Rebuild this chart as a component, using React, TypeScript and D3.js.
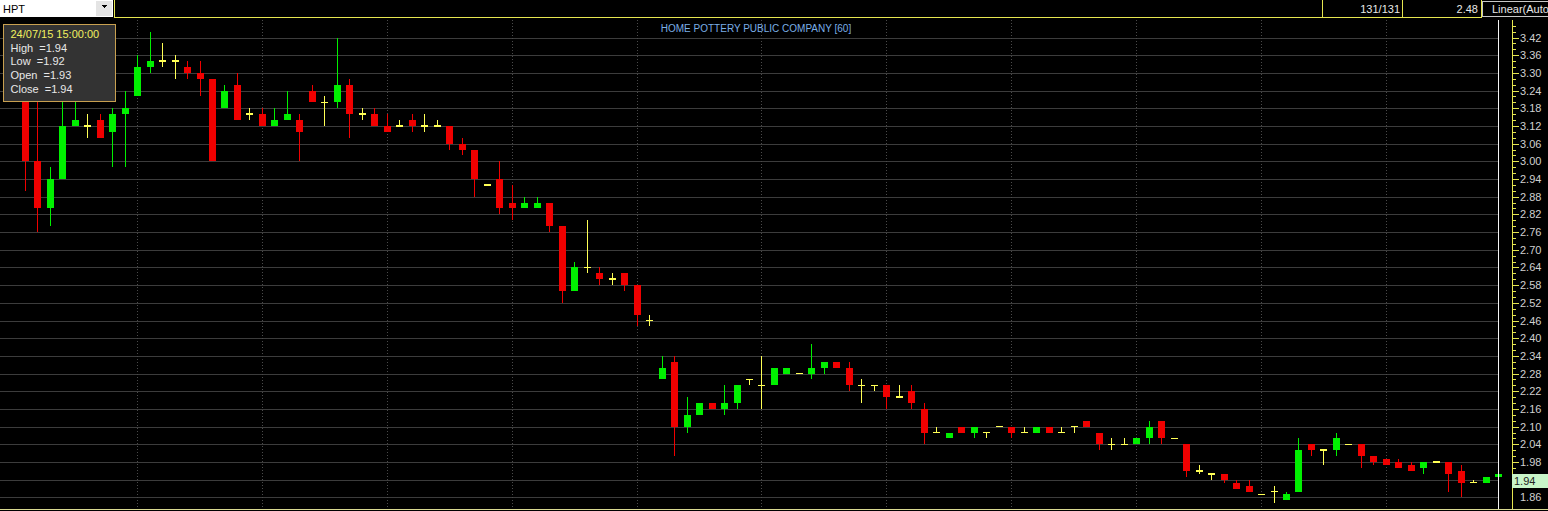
import React, { useEffect, useRef } from "react";
import * as d3 from "d3";

// 60-minute bars for HPT, visible window (oldest -> newest)
const OPEN = [
    3.28, 3.21, 3.0, 2.84, 2.94, 3.12, 3.12, 3.14, 3.1, 3.16,
    3.22, 3.32, 3.34, 3.34, 3.32, 3.3, 3.28, 3.18, 3.26, 3.16,
    3.16, 3.12, 3.14, 3.14, 3.24, 3.2, 3.2, 3.26, 3.16, 3.16,
    3.12, 3.12, 3.14, 3.12, 3.12, 3.12, 3.06, 3.04, 2.92, 2.94,
    2.86, 2.84, 2.84, 2.86, 2.78, 2.56, 2.64, 2.62, 2.6, 2.62,
    2.58, 2.46, 2.26, 2.32, 2.1, 2.14, 2.18, 2.16, 2.18, 2.26,
    2.24, 2.24, 2.28, 2.28, 2.28, 2.3, 2.32, 2.3, 2.24, 2.24,
    2.24, 2.2, 2.22, 2.16, 2.08, 2.06, 2.1, 2.08, 2.08, 2.1,
    2.1, 2.08, 2.08, 2.1, 2.08, 2.1, 2.12, 2.08, 2.04, 2.04,
    2.04, 2.06, 2.12, 2.06, 2.04, 1.95, 1.94, 1.94, 1.91, 1.9,
    1.87, 1.88, 1.85, 1.88, 2.04, 2.02, 2.02, 2.04, 2.04, 2.0,
    1.99, 1.98, 1.97, 1.96, 1.98, 1.98, 1.95, 1.91, 1.91, 1.93,
];
const HIGH = [
    3.32, 3.24, 3.2, 2.98, 3.22, 3.24, 3.16, 3.16, 3.18, 3.24,
    3.36, 3.44, 3.4, 3.36, 3.34, 3.34, 3.28, 3.26, 3.3, 3.18,
    3.18, 3.18, 3.24, 3.16, 3.26, 3.22, 3.42, 3.28, 3.18, 3.18,
    3.16, 3.14, 3.16, 3.16, 3.14, 3.12, 3.08, 3.04, 2.92, 3.0,
    2.92, 2.88, 2.88, 2.86, 2.78, 2.66, 2.8, 2.64, 2.62, 2.62,
    2.58, 2.48, 2.34, 2.34, 2.2, 2.18, 2.18, 2.24, 2.24, 2.26,
    2.34, 2.3, 2.3, 2.28, 2.38, 2.32, 2.32, 2.32, 2.26, 2.24,
    2.24, 2.24, 2.24, 2.18, 2.1, 2.08, 2.1, 2.1, 2.08, 2.1,
    2.1, 2.1, 2.1, 2.1, 2.1, 2.1, 2.12, 2.08, 2.06, 2.06,
    2.06, 2.12, 2.12, 2.06, 2.04, 1.97, 1.94, 1.94, 1.92, 1.92,
    1.87, 1.9, 1.88, 2.06, 2.04, 2.02, 2.08, 2.04, 2.04, 2.0,
    1.99, 1.99, 1.98, 1.98, 1.98, 1.98, 1.97, 1.92, 1.93, 1.94,
];
const LOW = [
    3.22, 2.9, 2.76, 2.78, 2.94, 3.12, 3.08, 3.08, 2.98, 2.98,
    3.22, 3.3, 3.32, 3.28, 3.28, 3.22, 3.0, 3.18, 3.14, 3.14,
    3.12, 3.12, 3.14, 3.0, 3.2, 3.12, 3.18, 3.08, 3.14, 3.12,
    3.1, 3.12, 3.1, 3.1, 3.12, 3.04, 3.02, 2.88, 2.92, 2.82,
    2.8, 2.84, 2.84, 2.76, 2.52, 2.56, 2.62, 2.58, 2.58, 2.56,
    2.44, 2.44, 2.26, 2.0, 2.08, 2.14, 2.16, 2.14, 2.16, 2.24,
    2.16, 2.24, 2.28, 2.28, 2.26, 2.28, 2.3, 2.22, 2.18, 2.22,
    2.16, 2.2, 2.16, 2.04, 2.08, 2.06, 2.08, 2.06, 2.06, 2.1,
    2.06, 2.08, 2.08, 2.08, 2.08, 2.08, 2.1, 2.02, 2.02, 2.04,
    2.04, 2.04, 2.04, 2.06, 1.93, 1.94, 1.92, 1.91, 1.89, 1.88,
    1.87, 1.84, 1.85, 1.88, 2.0, 1.97, 2.0, 2.04, 1.96, 1.97,
    1.97, 1.96, 1.95, 1.94, 1.98, 1.88, 1.86, 1.91, 1.91, 1.92,
];
const CLOSE = [
    3.24, 3.0, 2.84, 2.94, 3.12, 3.14, 3.12, 3.08, 3.16, 3.18,
    3.32, 3.34, 3.34, 3.34, 3.3, 3.28, 3.0, 3.24, 3.14, 3.16,
    3.12, 3.14, 3.16, 3.1, 3.2, 3.2, 3.26, 3.16, 3.16, 3.12,
    3.1, 3.12, 3.12, 3.12, 3.12, 3.06, 3.04, 2.94, 2.92, 2.84,
    2.84, 2.86, 2.86, 2.78, 2.56, 2.64, 2.64, 2.6, 2.6, 2.58,
    2.48, 2.46, 2.3, 2.1, 2.14, 2.18, 2.16, 2.18, 2.24, 2.26,
    2.24, 2.3, 2.3, 2.28, 2.3, 2.32, 2.3, 2.24, 2.24, 2.24,
    2.2, 2.2, 2.18, 2.08, 2.08, 2.08, 2.08, 2.1, 2.08, 2.1,
    2.08, 2.08, 2.1, 2.08, 2.08, 2.1, 2.1, 2.04, 2.04, 2.04,
    2.06, 2.1, 2.06, 2.06, 1.95, 1.95, 1.94, 1.92, 1.89, 1.88,
    1.87, 1.88, 1.87, 2.02, 2.02, 2.02, 2.06, 2.04, 2.0, 1.98,
    1.97, 1.96, 1.95, 1.98, 1.98, 1.94, 1.91, 1.91, 1.93, 1.94,
];

const PRICE_TICKS = [
    "3.42", "3.36", "3.30", "3.24", "3.18", "3.12", "3.06", "3.00", "2.94",
    "2.88", "2.82", "2.76", "2.70", "2.64", "2.58", "2.52", "2.46", "2.40",
    "2.34", "2.28", "2.22", "2.16", "2.10", "2.04", "1.98", "1.92", "1.86",
];

const LAST_PRICE = "1.94";
const TOOLTIP_LINES = ["High  =1.94", "Low  =1.92", "Open  =1.93", "Close  =1.94"];

const W = 1548;
const H = 511;
const FONT = "'Liberation Sans', Arial, sans-serif";

const CandleChart = () => {
    const svgRef = useRef(null);

    useEffect(() => {
        const svg = d3.select(svgRef.current);
        svg.selectAll("*").remove();

        const x = d3.scaleLinear().domain([0, OPEN.length - 1]).range([12.2, 1498.3]);
        const y = d3.scaleLinear().domain([1.86, 3.42]).range([497.4, 37.5]);
        const px = (i: number) => Math.round(x(i));

        svg.append("rect").attr("width", W).attr("height", H).attr("fill", "#000");

        // horizontal grid
        svg.append("g")
            .selectAll("line")
            .data(PRICE_TICKS)
            .enter()
            .append("line")
            .attr("x1", 0)
            .attr("x2", 1498)
            .attr("y1", (d) => Math.round(y(+d)) + 0.5)
            .attr("y2", (d) => Math.round(y(+d)) + 0.5)
            .attr("stroke", "#3c3c3c")
            .attr("stroke-width", 1);

        // vertical dotted grid every 10 bars
        const vIdx = d3.range(10, OPEN.length, 10);
        svg.append("g")
            .selectAll("line")
            .data(vIdx)
            .enter()
            .append("line")
            .attr("x1", (d) => px(d) + 0.5)
            .attr("x2", (d) => px(d) + 0.5)
            .attr("y1", 20)
            .attr("y2", 508)
            .attr("stroke", "#4a4a4a")
            .attr("stroke-dasharray", "1,2");

        const bars = OPEN.map((o, i) => ({ i, o, h: HIGH[i], l: LOW[i], c: CLOSE[i] }));
        const colorOf = (d) => (d.c > d.o ? "#00f000" : d.c < d.o ? "#f00000" : "#ffff55");

        const g = svg.append("g");
        // wicks
        g.selectAll(".wick")
            .data(bars)
            .enter()
            .append("line")
            .attr("class", "wick")
            .attr("x1", (d) => px(d.i) + 0.5)
            .attr("x2", (d) => px(d.i) + 0.5)
            .attr("y1", (d) => y(d.h))
            .attr("y2", (d) => y(d.l))
            .attr("stroke", colorOf)
            .attr("stroke-width", 1.2);

        // bodies
        g.selectAll(".body")
            .data(bars.filter((d) => d.o !== d.c))
            .enter()
            .append("rect")
            .attr("class", "body")
            .attr("x", (d) => px(d.i) - 3)
            .attr("width", 7)
            .attr("y", (d) => y(Math.max(d.o, d.c)))
            .attr("height", (d) => Math.abs(y(d.o) - y(d.c)))
            .attr("fill", colorOf);

        // doji bars
        g.selectAll(".doji")
            .data(bars.filter((d) => d.o === d.c))
            .enter()
            .append("line")
            .attr("class", "doji")
            .attr("x1", (d) => px(d.i) - 3)
            .attr("x2", (d) => px(d.i) + 4)
            .attr("y1", (d) => y(d.o))
            .attr("y2", (d) => y(d.o))
            .attr("stroke", "#ffff55")
            .attr("stroke-width", 1.6);

        // white cursor line
        svg.append("line")
            .attr("x1", 1498.5).attr("x2", 1498.5)
            .attr("y1", 20).attr("y2", 509)
            .attr("stroke", "#f4f4f4");

        // bottom border
        svg.append("line")
            .attr("x1", 0).attr("x2", W)
            .attr("y1", 509.5).attr("y2", 509.5)
            .attr("stroke", "#d8d890");

        // price axis
        svg.append("line")
            .attr("x1", 1512.5).attr("x2", 1512.5)
            .attr("y1", 20).attr("y2", 509)
            .attr("stroke", "#e6e650");

        const minor = d3.range(0, 80).map((k) => 3.48 - k * 0.02).filter((v) => y(v) > 20 && y(v) < 509);
        svg.append("g")
            .selectAll("line")
            .data(minor)
            .enter()
            .append("line")
            .attr("x1", 1512.5)
            .attr("x2", (d) => 1512.5 + (Math.abs(((3.42 - d) / 0.06) - Math.round((3.42 - d) / 0.06)) < 0.01 ? 6 : 3))
            .attr("y1", (d) => Math.round(y(d)) + 0.5)
            .attr("y2", (d) => Math.round(y(d)) + 0.5)
            .attr("stroke", "#e6e650");

        // last price marker box (labels underneath it are covered)
        const boxTop = Math.round(y(+LAST_PRICE));
        const boxH = 14;
        svg.append("g")
            .selectAll("text")
            .data(PRICE_TICKS.filter((d) => {
                const ty = y(+d);
                return ty < boxTop - 6 || ty > boxTop + boxH + 6;
            }))
            .enter()
            .append("text")
            .attr("x", 1520)
            .attr("y", (d) => y(+d) + 4)
            .text((d) => d)
            .attr("fill", "#d0d0d0")
            .attr("font-size", "11px")
            .attr("font-family", FONT);

        svg.append("rect")
            .attr("x", 1512).attr("y", boxTop)
            .attr("width", 36).attr("height", boxH)
            .attr("fill", "#c8f5c8");
        svg.append("text")
            .attr("x", 1514).attr("y", boxTop + 11)
            .text(LAST_PRICE)
            .attr("fill", "#222")
            .attr("font-size", "11px")
            .attr("font-family", FONT);

        // title
        svg.append("text")
            .attr("x", 756).attr("y", 31.5)
            .attr("text-anchor", "middle")
            .text("HOME POTTERY PUBLIC COMPANY [60]")
            .attr("fill", "#7aaee6")
            .attr("font-size", "10px")
            .attr("font-family", FONT);

        // tooltip
        const tip = svg.append("g");
        tip.append("rect")
            .attr("x", 3.5).attr("y", 24.5)
            .attr("width", 112).attr("height", 77)
            .attr("fill", "#333")
            .attr("stroke", "#c8a050");
        tip.append("text")
            .attr("x", 10.5).attr("y", 38)
            .text("24/07/15 15:00:00")
            .attr("fill", "#f0f060")
            .attr("font-size", "11px")
            .attr("font-family", FONT);
        tip.selectAll(".tl")
            .data(TOOLTIP_LINES)
            .enter()
            .append("text")
            .attr("class", "tl")
            .attr("x", 10.5)
            .attr("y", (_d, i) => 51.5 + i * 13.8)
            .style("white-space", "pre")
            .text((d) => d)
            .attr("fill", "#e8e8e8")
            .attr("font-size", "11px")
            .attr("font-family", FONT);

        // header strip
        const hd = svg.append("g");
        hd.append("rect").attr("x", 0).attr("y", 0).attr("width", W).attr("height", 18).attr("fill", "#000");
        hd.append("rect").attr("x", 0).attr("y", 0).attr("width", 113).attr("height", 17).attr("fill", "#fff");
        hd.append("rect").attr("x", 96).attr("y", 1).attr("width", 16).attr("height", 15).attr("fill", "#e4e4e4");
        hd.append("path").attr("d", "M101,5 L107,5 L104,8 Z").attr("fill", "#000");
        hd.append("text")
            .attr("x", 3).attr("y", 12.5)
            .text("HPT")
            .attr("fill", "#000")
            .attr("font-size", "11px")
            .attr("font-family", FONT);
        hd.append("rect")
            .attr("x", 114.5).attr("y", -1)
            .attr("width", 1208).attr("height", 18)
            .attr("fill", "none")
            .attr("stroke", "#e6e650");
        hd.append("rect")
            .attr("x", 1322.5).attr("y", -1)
            .attr("width", 80).attr("height", 18)
            .attr("fill", "none")
            .attr("stroke", "#e6e650");
        hd.append("rect")
            .attr("x", 1402.5).attr("y", -1)
            .attr("width", 79).attr("height", 18)
            .attr("fill", "none")
            .attr("stroke", "#e6e650");
        hd.append("rect")
            .attr("x", 1482.5).attr("y", 1.5)
            .attr("width", 70).attr("height", 15)
            .attr("fill", "none")
            .attr("stroke", "#c8c8c8");
        const hdText = [
            { t: "131/131", x: 1400, a: "end" },
            { t: "2.48", x: 1478, a: "end" },
            { t: "Linear(Auto", x: 1492, a: "start" },
        ];
        hd.selectAll(".ht")
            .data(hdText)
            .enter()
            .append("text")
            .attr("class", "ht")
            .attr("x", (d) => d.x)
            .attr("y", 13)
            .attr("text-anchor", (d) => d.a)
            .text((d) => d.t)
            .attr("fill", "#e8e8e8")
            .attr("font-size", "11px")
            .attr("font-family", FONT);
    }, []);

    return <svg ref={svgRef} width={W} height={H} style={{ display: "block" }} shapeRendering="crispEdges"></svg>;
};

export default function App() {
    return (
        <div style={{ position: "absolute", left: 0, top: 0, width: W, height: H, overflow: "hidden" }}>
            <CandleChart />
        </div>
    );
}
